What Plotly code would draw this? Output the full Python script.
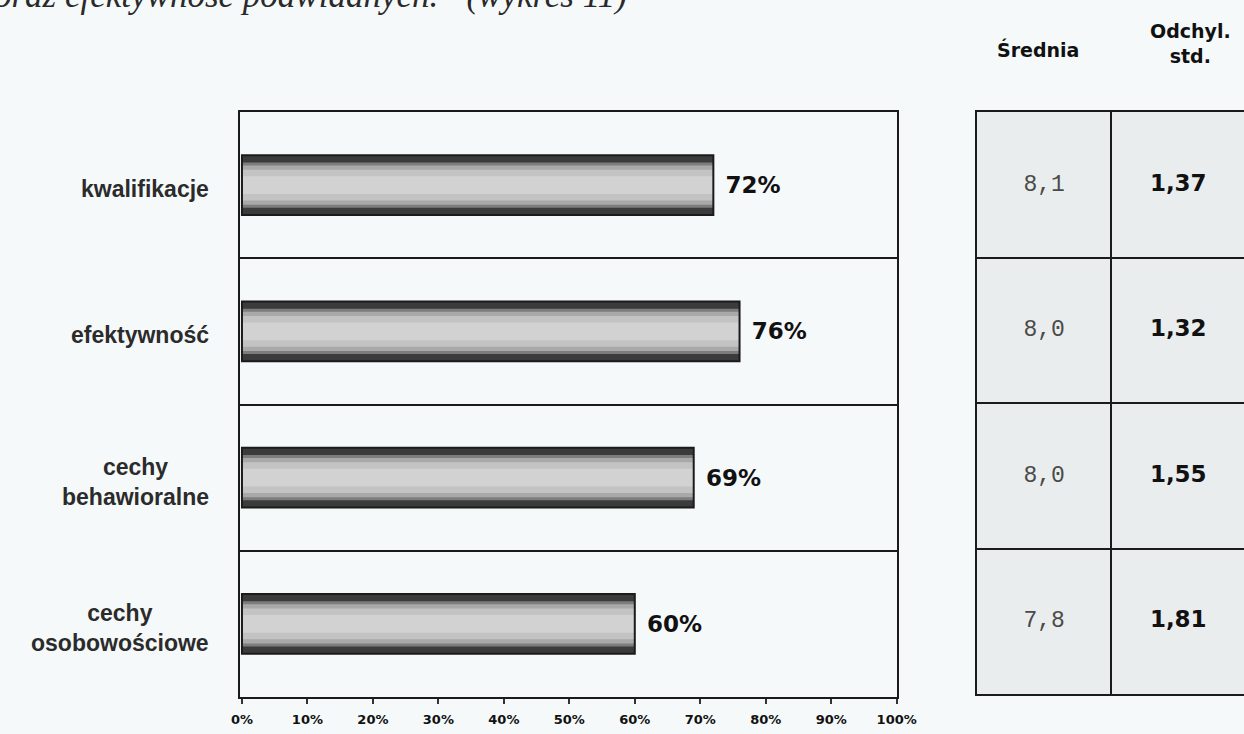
import plotly.graph_objects as go

# ---- data ----
categories = ["kwalifikacje", "efektywność", "cechy<br>behawioralne", "cechy<br>osobowościowe"]
percent_values = [72, 76, 69, 60]
mean_values = ["8,1", "8,0", "8,0", "7,8"]
std_values = ["1,37", "1,32", "1,55", "1,81"]
table_headers = ["Średnia", "Odchyl.<br>std."]
x_tick_values = [0, 10, 20, 30, 40, 50, 60, 70, 80, 90, 100]
x_tick_labels = ["0%", "10%", "20%", "30%", "40%", "50%", "60%", "70%", "80%", "90%", "100%"]
caption_text = "oraz efektywność podwładnych.” (wykres 11)"

PAGE = "#f5f9fa"
TABLE_BG = "#eaeded"
LINE = "#1b1b1b"

W, H = 1244, 734
ML, MR, MT, MB = 240, 0, 112, 37
PW = W - ML - MR
PH = H - MT - MB


def px_x(p):
    return (p - ML) / PW


def px_y(p):
    return (H - MB - p) / PH


fig = go.Figure()

# bar with a layered grey "gradient"
layers = [(0.41, "#3b3b3b"), (0.31, "#7d7d7d"), (0.27, "#a9a9a9"), (0.21, "#c3c3c3"), (0.12, "#d2d2d2")]
for w, c in layers:
    fig.add_trace(go.Bar(
        x=percent_values, y=categories, orientation="h", width=w,
        marker=dict(color=c, line=dict(width=0)), hoverinfo="skip", showlegend=False,
        xaxis="x", yaxis="y"))
# outline + value labels
fig.add_trace(go.Bar(
    x=percent_values, y=categories, orientation="h", width=0.41,
    marker=dict(color="rgba(0,0,0,0)", line=dict(color=LINE, width=2)),
    text=[f"\u2009\u2009{v}%" for v in percent_values], textposition="outside",
    textfont=dict(family="DejaVu Sans", size=23, color="#111111", weight="bold"),
    constraintext="none", cliponaxis=False, showlegend=False,
    xaxis="x", yaxis="y"))

# table values
fig.add_trace(go.Scatter(
    x=[table_headers[0]] * len(categories), y=categories, mode="text",
    text=mean_values, textposition="middle center",
    textfont=dict(family="Liberation Mono", size=23, color="#4a4a4a"),
    showlegend=False, xaxis="x2", yaxis="y2"))
fig.add_trace(go.Scatter(
    x=[table_headers[1]] * len(categories), y=categories, mode="text",
    text=std_values, textposition="middle center",
    textfont=dict(family="DejaVu Sans", size=23, color="#111111", weight="bold"),
    showlegend=False, xaxis="x2", yaxis="y2"))

annotations = []
for cat in categories:
    annotations.append(dict(
        text=cat, x=px_x(211), xref="paper", y=cat, yref="y",
        xanchor="right", yanchor="middle", align="center", showarrow=False,
        yshift=-4,
        font=dict(family="Liberation Sans", size=23, color="#2b2b2b", weight="bold")))

annotations.append(dict(
    text=table_headers[0], x=table_headers[0], xref="x2", y=px_y(50), yref="paper",
    xanchor="center", yanchor="middle", showarrow=False, xshift=-6,
    font=dict(family="DejaVu Sans", size=19, color="#111111", weight="bold")))
annotations.append(dict(
    text=table_headers[1], x=table_headers[1], xref="x2", y=px_y(44), yref="paper",
    xanchor="center", yanchor="middle", showarrow=False, xshift=12, align="center",
    font=dict(family="DejaVu Sans", size=19, color="#111111", weight="bold")))

annotations.append(dict(
    text=caption_text, x=px_x(-8), xref="paper", y=px_y(17), yref="paper",
    xanchor="left", yanchor="bottom", showarrow=False,
    font=dict(family="Liberation Serif", size=35, color="#2a2a2a", style="italic")))

fig.update_layout(
    width=W, height=H, autosize=False,
    margin=dict(l=ML, r=MR, t=MT, b=MB, autoexpand=False),
    paper_bgcolor=PAGE, plot_bgcolor=PAGE,
    barmode="overlay",
    showlegend=False,
    annotations=annotations,
    shapes=[dict(type="rect", xref="x2 domain", yref="y2 domain", x0=0, x1=1, y0=0, y1=1,
                 fillcolor=TABLE_BG, line=dict(width=0), layer="below")],
    xaxis=dict(
        domain=[0, px_x(897)], range=[-0.3, 100.05],
        tickmode="array", tickvals=x_tick_values, ticktext=x_tick_labels,
        ticks="outside", ticklen=5, tickwidth=1.5, tickcolor="#333333",
        tickfont=dict(family="DejaVu Sans", size=13, color="#111111", weight="bold"),
        ticklabelstandoff=4,
        showgrid=False, zeroline=False,
        showline=True, mirror=True, linecolor=LINE, linewidth=2),
    yaxis=dict(
        domain=[0, 1], type="category", categoryarray=categories, range=[3.5, -0.5],
        showticklabels=False, ticks="", tickson="boundaries",
        showgrid=True, gridcolor=LINE, gridwidth=1.5, zeroline=False,
        showline=True, mirror=True, linecolor=LINE, linewidth=2),
    xaxis2=dict(
        domain=[px_x(977), 1], anchor="y2", type="category", categoryarray=table_headers,
        range=[-0.5, 1.49], showticklabels=False, ticks="", tickson="boundaries",
        showgrid=True, gridcolor=LINE, gridwidth=1.5, zeroline=False,
        showline=True, mirror=True, linecolor=LINE, linewidth=2),
    yaxis2=dict(
        domain=[px_y(694), 1], anchor="x2", type="category", categoryarray=categories,
        range=[3.5, -0.5], showticklabels=False, ticks="", tickson="boundaries",
        showgrid=True, gridcolor=LINE, gridwidth=1.5, zeroline=False,
        showline=True, mirror=False, linecolor=LINE, linewidth=2),
)

fig.write_html(
    "out.html",
    config={"responsive": False, "displayModeBar": False},
    post_script="document.body.style.margin='0';document.body.style.overflow='hidden';",
)
